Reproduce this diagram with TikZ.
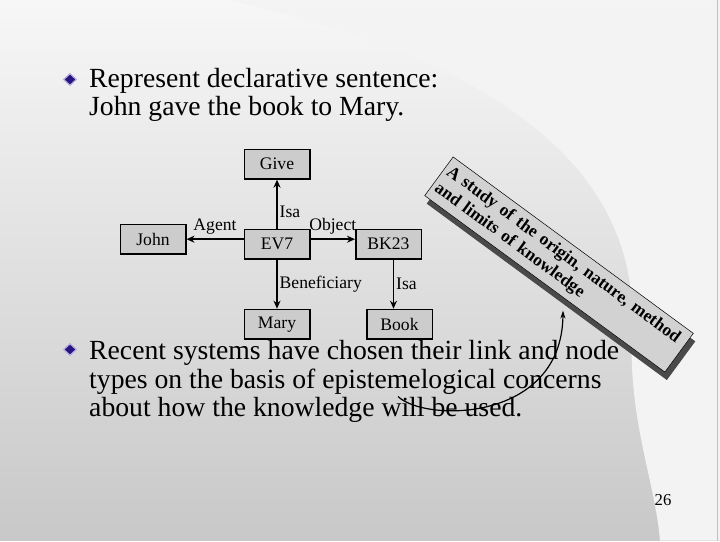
\documentclass[tikz,border=0pt]{standalone}
\usepackage{fontspec}
\setmainfont{Liberation Serif}
\usetikzlibrary{positioning, arrows.meta, calc, shapes.geometric, shadows}
\definecolor{boxfill}{HTML}{CCCCCC}
\definecolor{notefill}{HTML}{D2D2D2}
\definecolor{noteshadow}{HTML}{4A4A4A}
\definecolor{bulletfill}{HTML}{2A1480}
\definecolor{bulletedge}{HTML}{B4ACE0}
\definecolor{bgtop}{HTML}{F7F7F7}
\definecolor{bgbottom}{HTML}{C8C8C8}
\definecolor{bgpage}{HTML}{F3F3F3}

\begin{document}
\begin{tikzpicture}[x=1pt, y=1pt,
    box/.style={rectangle, draw=black, fill=boxfill, line width=1.5pt,
                minimum width=65.5pt, minimum height=29.5pt, inner sep=2pt,
                font=\fontsize{17.6}{18}\selectfont},
    lbl/.style={font=\fontsize{17.6}{18}\selectfont, inner sep=2pt},
    link/.style={-{Stealth[length=8pt, width=7pt]}, line width=1.4pt},
    bulletmark/.style={diamond, fill=bulletfill, draw=bulletedge, line width=1.2pt,
                minimum width=13pt, minimum height=12pt, inner sep=0pt},
    bodytext/.style={anchor=north west, inner sep=0pt, align=left,
                font=\fontsize{27.7}{28.3}\selectfont}
  ]
  % slide background
  \fill[top color=bgtop, bottom color=bgbottom] (0,0) rectangle (720,540);
  \fill[bgpage] (230,540) .. controls (500,480) and (640,370) .. (632,210)
    .. controls (628,120) and (655,60) .. (660,0) -- (720,0) -- (720,540) -- cycle;
  \draw[gray!50, line width=1pt] (717.5,0) -- (717.5,540);

  % bullets
  \node[bulletmark] (b1) at (70,461) {};
  \node[bodytext] (t1) at (89,472.5) {Represent declarative sentence:\\John gave the book to Mary.};
  \node[bulletmark] (b2) at (70,191) {};
  \node[bodytext] (t2) at (89,200.2) {Recent systems have chosen their link and node\\types on the basis of epistemelogical concerns\\about how the knowledge will be used.};

  % semantic net
  \node[box] (EV7) at (277,296.3) {EV7};
  \node[box, above=49pt of EV7] (Give) {Give};
  \node[box, left=57pt of EV7, yshift=5pt] (John) {John};
  \node[box, right=44.5pt of EV7] (BK23) {BK23};
  \node[box, below=49pt of EV7] (Mary) {Mary};
  \node[box, below=49pt of BK23, xshift=11pt] (Book) {Book};

  \draw[link] (EV7) -- node[lbl, pos=0.35, right] {Isa} (Give);
  \draw[link] (EV7.west |- John) -- node[lbl, above=2pt] {Agent} (John);
  \draw[link] (EV7.east |- John) -- node[lbl, above=2pt] {Object} (BK23.west |- John);
  \draw[link] (EV7) -- node[lbl, right] {Beneficiary} (Mary);
  \draw[link] ([xshift=5pt]BK23.south) -- node[lbl, right] {Isa} ([xshift=5pt]BK23.south |- Book.north);

  % callout
  \node[rectangle, draw=black, line width=0.5pt, fill=notefill, rotate=-36.3,
        minimum width=298pt, minimum height=48pt, text width=290pt, inner sep=4pt,
        align=left, font=\bfseries\fontsize{17.5}{20}\selectfont,
        drop shadow={shadow xshift=2pt, shadow yshift=-8pt, fill=noteshadow, opacity=1}]
        (note) at (559,276) {A study of the origin, nature, method\\and limits of knowledge};
  \coordinate (src) at (398,144);
  \coordinate (tip) at (563,230);
  \draw[-{Stealth[length=8pt, width=5pt]}, line width=1.2pt] (src) .. controls (425,118) and (562,118) .. (tip);

  \node[font=\fontsize{16.7}{18}\selectfont, anchor=base] (page) at (663,35) {26};
\end{tikzpicture}
\end{document}
